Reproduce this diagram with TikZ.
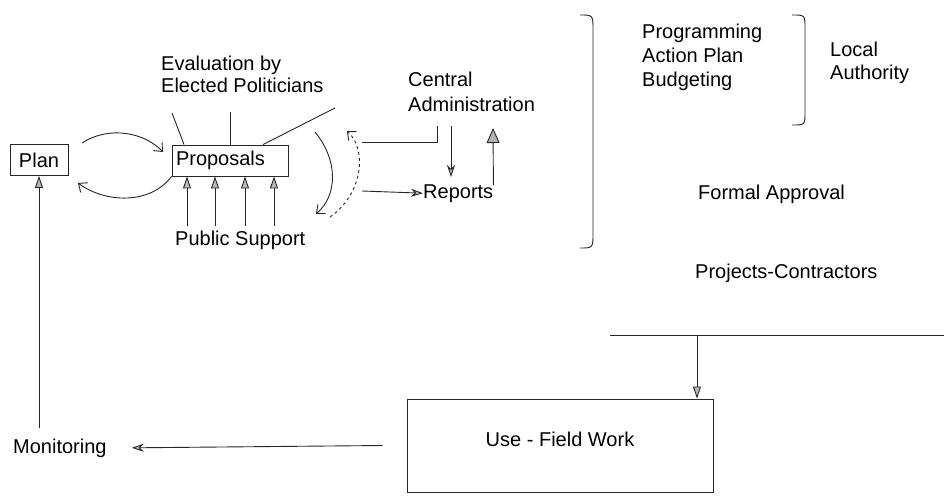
\documentclass[tikz,border=0pt]{standalone}
\usepackage{fontspec}
\setmainfont{Liberation Sans}
\usetikzlibrary{arrows.meta}
\begin{document}
\begin{tikzpicture}[x=1pt,y=-1pt,
  every node/.style={font=\fontsize{20}{24}\selectfont},
  txt/.style={inner sep=0pt, anchor=base west},
  mtxt/.style={inner sep=0pt, anchor=north west, align=left},
  ln/.style={line width=0.9pt, draw=black!85},
  gtip/.style={-{Triangle[length=12pt,width=8pt,fill=gray!55]}},
  bigtip/.style={-{Triangle[length=15pt,width=13pt,fill=gray!60]}},
  stip/.style={-{Stealth[length=12pt,width=8pt,fill=gray!50]}},
  btip/.style={-{Straight Barb[length=7pt,width=12pt]}},
  boxnode/.style={draw=black!85, line width=0.9pt}]
\useasboundingbox (0,0) rectangle (944,495);

% nodes
\node[boxnode, minimum width=58pt, minimum height=31pt, inner sep=0pt] (plan) at (39,160) {Plan};
\node[boxnode, minimum width=116pt, minimum height=31pt, text width=108pt, inner sep=4pt, align=left] (prop) at (230,160.5) {Proposals};
\node[mtxt, font=\fontsize{20}{22}\selectfont] (eval) at (161,55.4) {Evaluation by\\Elected Politicians};
\node[txt] (pubsup) at (175,245) {Public Support};
\node[mtxt, font=\fontsize{20}{25}\selectfont] (central) at (408,71.4) {Central\\Administration};
\node[txt] (reports) at (423,198) {Reports};
\node[mtxt, font=\fontsize{20}{24}\selectfont] (prog) at (642,23.4) {Programming\\Action Plan\\Budgeting};
\node[mtxt, font=\fontsize{20}{23}\selectfont] (local) at (830,41.4) {Local\\Authority};
\node[txt] (formal) at (698,199) {Formal Approval};
\node[txt] (projects) at (695,278) {Projects-Contractors};
\node[txt] (monitor) at (13,453) {Monitoring};
\node[boxnode, minimum width=306pt, minimum height=93pt, text height=14.5pt, text depth=13pt] (use) at (560,445.5) {Use - Field Work};

% brackets
\draw[ln] (580,15) .. controls (593,15) .. (593,30) -- (593,233) .. controls (593,248) .. (580,248);
\draw[ln] (792,15) .. controls (805,15) .. (805,28) -- (805,112) .. controls (805,125) .. (792,125);

% plan <-> proposals
\draw[ln,btip] (82,143) .. controls (110,125) and (145,133) .. (163,152);
\draw[ln,btip] (prop.south west) .. controls (150,205) and (105,203) .. (78,183);

% evaluation lines
\draw[ln] (172,113) -- (184,0 |- prop.north);
\draw[ln] (230,112) -- (230,0 |- prop.north);
\draw[ln] (335,108) -- (263,0 |- prop.north);

% public support arrows
\foreach \x in {187,215,245,274}
  \draw[ln,gtip] (\x,226) -- (\x,0 |- prop.south);

% curved arrows near reports
\draw[ln,btip] (315,132) .. controls (338,160) and (338,195) .. (316,214);
\draw[ln,dashed,btip] (330,217) .. controls (362,195) and (368,150) .. (347,131);

% central administration
\coordinate (ca1) at (437,126);
\coordinate (ca2) at (362,142);
\draw[ln] (ca1) |- (ca2);
\draw[ln,stip] (451,126) -- (451,177);
\draw[ln,bigtip] (reports.north east) ++(0,1) -- (493,128);
\coordinate (rin) at (362,191);
\draw[ln,stip] (rin) -- (reports.west);

% projects to use
\coordinate (hlL) at (610,335);
\coordinate (hlR) at (944,335);
\draw[ln] (hlL) -- (hlR);
\draw[ln,gtip] (697,335) -- (697,0 |- use.north);

% use to monitoring, monitoring to plan
\draw[ln,stip] ([xshift=-24pt]use.west) -- ([xshift=25pt]monitor.east);
\draw[ln,gtip] ([yshift=10pt]plan.south |- monitor.north) -- (plan.south);
\end{tikzpicture}
\end{document}
